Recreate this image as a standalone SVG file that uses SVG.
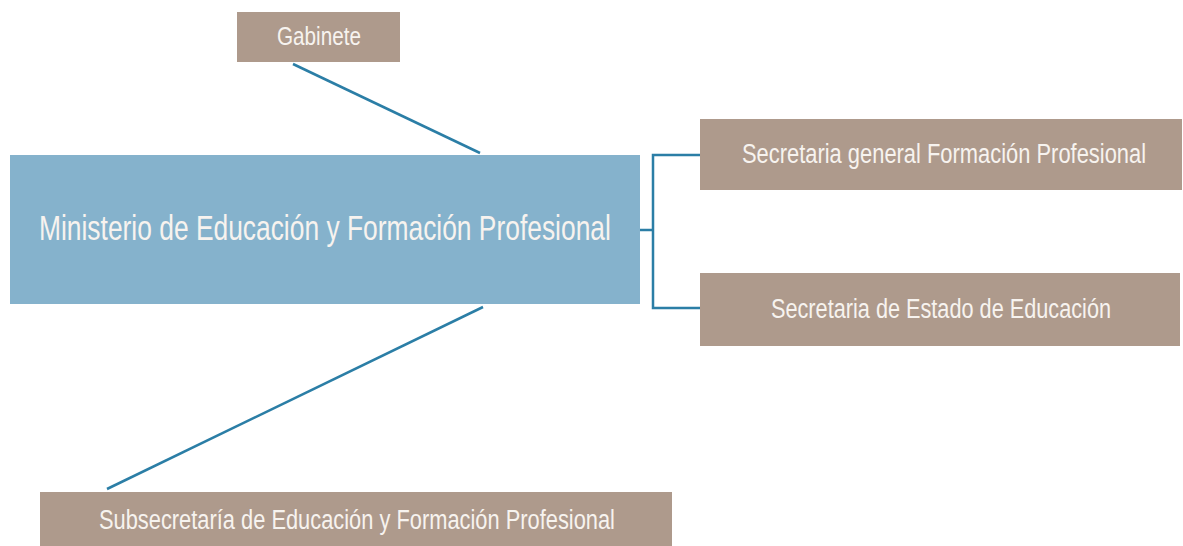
<svg xmlns="http://www.w3.org/2000/svg" width="1183" height="546" viewBox="0 0 1183 546">
<style>
.box{fill:#ae9a8c;}
.main{fill:#85b2cc;}
.lbl{font-family:"Liberation Sans",Arial,sans-serif;fill:#f7f3ef;text-anchor:start;}
.con{stroke:#2b7ea6;stroke-width:2.5;fill:none;}
</style>
<rect width="1183" height="546" fill="#ffffff"/>
<g id="connectors">
<line class="con" x1="293" y1="64" x2="480" y2="153"/>
<line class="con" x1="483" y1="307" x2="107" y2="489"/>
<polyline class="con" points="700,155 653,155 653,308 700,308"/>
<line class="con" x1="640" y1="230" x2="653" y2="230"/>
</g>
<g id="gabinete">
<rect class="box" x="237" y="12" width="163" height="50"/>
<text class="lbl" transform="translate(277,45) scale(0.81,1)" font-size="25" textLength="103.7" lengthAdjust="spacingAndGlyphs">Gabinete</text>
</g>
<g id="ministerio">
<rect class="main" x="10" y="155" width="630" height="149"/>
<text class="lbl" transform="translate(39,240) scale(0.81,1)" font-size="35" textLength="706" lengthAdjust="spacingAndGlyphs">Ministerio de Educación y Formación Profesional</text>
</g>
<g id="sec-general">
<rect class="box" x="700" y="119" width="482" height="71"/>
<text class="lbl" transform="translate(742,163) scale(0.81,1)" font-size="27" textLength="498.8" lengthAdjust="spacingAndGlyphs">Secretaria general Formación Profesional</text>
</g>
<g id="sec-estado">
<rect class="box" x="700" y="273" width="480" height="73"/>
<text class="lbl" transform="translate(771,318) scale(0.81,1)" font-size="27" textLength="419.8" lengthAdjust="spacingAndGlyphs">Secretaria de Estado de Educación</text>
</g>
<g id="subsecretaria">
<rect class="box" x="40" y="492" width="632" height="54"/>
<text class="lbl" transform="translate(99,529) scale(0.81,1)" font-size="27" textLength="637" lengthAdjust="spacingAndGlyphs">Subsecretaría de Educación y Formación Profesional</text>
</g>
</svg>
